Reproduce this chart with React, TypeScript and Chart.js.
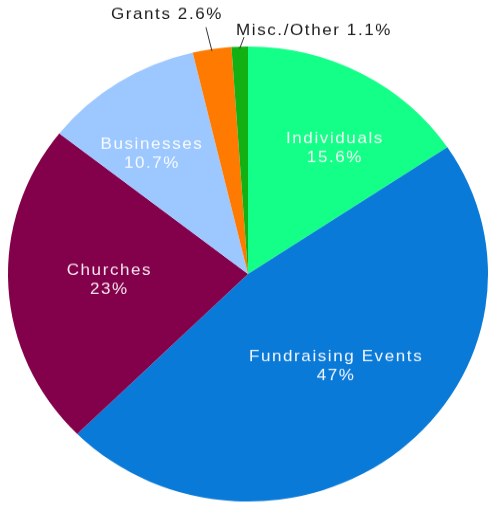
import React, { useEffect, useRef } from "react";
import { Chart, registerables } from "chart.js";

Chart.register(...registerables);

const categories = ["Individuals", "Fundraising Events", "Churches", "Businesses", "Grants", "Misc./Other"];
const values = [15.6, 47, 23, 10.7, 2.6, 1.1];
const valueLabels = ["15.6%", "47%", "23%", "10.7%", "2.6%", "1.1%"];
const colors = ["#14FF88", "#0A7AD8", "#83004A", "#9DC8FF", "#FF7A00", "#12B012"];

// label placement styling (inside: angle nudge in degrees + radius fraction; outside: leader + text offsets from the arc edge)
const placement: any[] = [
  { inside: true, da: 5.1, rf: 0.662, color: "#eefff4" },
  { inside: true, da: -3, rf: 0.546, color: "#f2f6ff" },
  { inside: true, da: 0.6, rf: 0.578, color: "#f6e6ef" },
  { inside: true, da: -4.6, rf: 0.662, color: "#f8fbff" },
  { inside: false, lx: -6, ly: -23, tx: -45, ty: -36, align: "center" },
  { inside: false, lx: 4.3, ly: -10, tx: -3.7, ty: -16.4, align: "left" },
];

const labelPlugin = {
  id: "sliceLabels",
  afterDatasetsDraw(chart: any) {
    const ctx = chart.ctx as CanvasRenderingContext2D;
    const meta = chart.getDatasetMeta(0);
    meta.data.forEach((arc: any, i: number) => {
      const { x, y, startAngle, endAngle, outerRadius } = arc.getProps(
        ["x", "y", "startAngle", "endAngle", "outerRadius"],
        true
      );
      const mid = (startAngle + endAngle) / 2;
      const p = placement[i];
      ctx.save();
      ctx.font = "17px 'Liberation Sans', Arial, sans-serif";
      (ctx as any).letterSpacing = "1.6px";
      ctx.textBaseline = "middle";
      if (p.inside) {
        const a = mid + (p.da * Math.PI) / 180;
        const r = p.rf * outerRadius;
        const cx = x + r * Math.cos(a);
        const cy = y + r * Math.sin(a);
        ctx.fillStyle = p.color;
        ctx.textAlign = "center";
        ctx.fillText(categories[i], cx, cy - 10);
        ctx.fillText(valueLabels[i], cx, cy + 10);
      } else {
        const ex = x + outerRadius * Math.cos(mid);
        const ey = y + outerRadius * Math.sin(mid);
        ctx.strokeStyle = "#333333";
        ctx.lineWidth = 1;
        ctx.beginPath();
        ctx.moveTo(ex, ey + 2);
        ctx.lineTo(ex + p.lx, ey + p.ly);
        ctx.stroke();
        ctx.fillStyle = "#1a1a1a";
        ctx.textAlign = p.align;
        ctx.fillText(categories[i] + " " + valueLabels[i], ex + p.tx, ey + p.ty);
      }
      ctx.restore();
    });
  },
};

export default function App() {
  const ref = useRef<HTMLCanvasElement | null>(null);

  useEffect(() => {
    if (!ref.current) return;
    const chart = new Chart(ref.current, {
      type: "pie",
      data: {
        labels: categories,
        datasets: [
          {
            data: values,
            backgroundColor: colors,
            borderWidth: 0,
          },
        ],
      },
      options: {
        responsive: false,
        animation: false,
        events: [],
        layout: { padding: { left: 8, right: 0, top: 49, bottom: 4 } },
        plugins: {
          legend: { display: false },
          tooltip: { enabled: false },
          title: { display: false },
        },
      },
      plugins: [labelPlugin],
    });
    return () => chart.destroy();
  }, []);

  return (
    <div
      style={{
        position: "absolute",
        left: 0,
        top: 0,
        width: 488,
        height: 505,
        overflow: "hidden",
        background: "#ffffff",
      }}
    >
      <canvas
        ref={ref}
        width={488}
        height={533}
        style={{ display: "block", transform: "scaleY(0.948)", transformOrigin: "0 0" }}
      />
    </div>
  );
}
